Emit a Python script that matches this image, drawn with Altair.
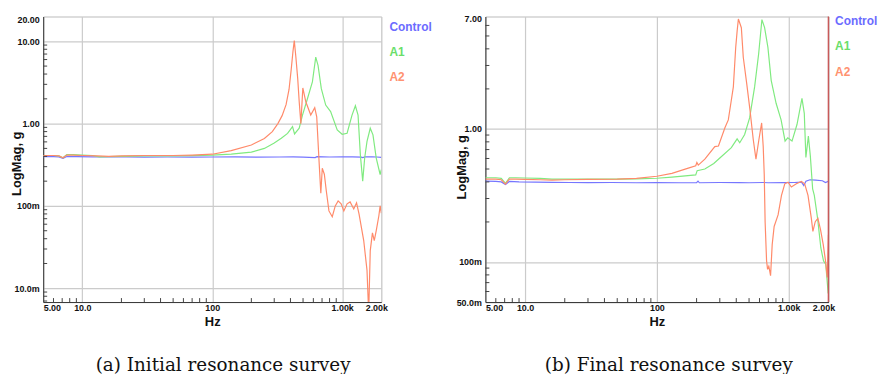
import altair as alt
import pandas as pd

# ---------------- shared ----------------
SERIES = ["Control", "A1", "A2"]
LINE_COLORS = ["#7676ff", "#80ea80", "#ff8a6a"]
TEXT_COLORS = ["#6b6bff", "#6ade6a", "#ff9270"]

x_tick_values = [5, 10, 100, 1000, 2000]
x_tick_labels = ["5.00", "10.0", "100", "1.00k", "2.00k"]
x_minor = [6, 7, 8, 9, 20, 30, 40, 50, 60, 70, 80, 90,
           200, 300, 400, 500, 600, 700, 800, 900]

# ---------------- panel (a) ----------------
a_y_tick_values = [0.01, 0.1, 1, 10, 20]
a_y_tick_labels = ["10.0m", "100m", "1.00", "10.00", "20.00"]
a_y_minor = [0.007, 0.008, 0.009, 0.02, 0.03, 0.04, 0.05, 0.06, 0.07, 0.08, 0.09,
             0.2, 0.3, 0.4, 0.5, 0.6, 0.7, 0.8, 0.9, 2, 3, 4, 5, 6, 7, 8, 9]

a_ctrl_f = [5, 6, 6.6, 7.1, 7.6, 9, 12, 16, 22, 30, 45, 70, 100, 150, 220, 330, 420,
            500, 620, 640, 800, 1000, 1200, 1400, 1440, 1500, 1700, 1850, 2000]
a_ctrl_v = [0.398, 0.398, 0.395, 0.378, 0.398, 0.397, 0.394, 0.393, 0.395, 0.392, 0.393,
            0.392, 0.393, 0.394, 0.392, 0.393, 0.394, 0.392, 0.387, 0.397, 0.393, 0.394,
            0.395, 0.392, 0.387, 0.395, 0.396, 0.393, 0.390]

a_a1_f = [5, 6, 6.6, 7.1, 7.6, 8.5, 10, 12, 13.5, 16, 20, 30, 50, 70, 100, 140, 200,
          252, 300, 340, 380, 415, 430, 467, 495, 541, 590, 626, 652, 691, 747, 815,
          916, 1000, 1091, 1191, 1264, 1325, 1380, 1439, 1490, 1553, 1645, 1726, 1829,
          1960, 2000]
a_a1_v = [0.41, 0.41, 0.405, 0.385, 0.42, 0.42, 0.415, 0.41, 0.395, 0.398, 0.40, 0.405,
          0.405, 0.408, 0.415, 0.427, 0.451, 0.50, 0.58, 0.665, 0.76, 0.92, 0.75, 0.88,
          1.27, 2.02, 3.21, 6.42, 5.09, 2.66, 1.68, 1.40, 0.84, 0.743, 0.764, 1.27, 1.65,
          1.27, 0.42, 0.20, 0.382, 0.607, 0.878, 0.731, 0.382, 0.241, 0.277]

a_a2_f = [5, 6, 6.6, 7.1, 7.6, 8.5, 10, 13, 16, 20, 30, 50, 70, 100, 140, 200, 252,
          290, 320, 345, 370, 390, 405, 418, 428, 440, 455, 467, 481, 498, 525, 573,
          615, 637, 664, 685, 703, 729, 755, 791, 839, 885, 931, 982, 1030, 1091, 1151,
          1228, 1290, 1348, 1465, 1553, 1600, 1645, 1710, 1766, 1829, 1916, 1960, 2000]
a_a2_v = [0.41, 0.41, 0.405, 0.385, 0.415, 0.415, 0.41, 0.405, 0.40, 0.405, 0.41, 0.41,
          0.415, 0.425, 0.47, 0.55, 0.66, 0.80, 1.0, 1.25, 1.7, 2.6, 4.5, 7.5, 10.2, 6.5,
          3.5, 1.84, 1.0, 2.71, 1.84, 1.27, 1.56, 1.21, 0.348, 0.143, 0.287, 0.243,
          0.152, 0.087, 0.074, 0.1, 0.115, 0.106, 0.087, 0.106, 0.112, 0.092, 0.109,
          0.080, 0.038, 0.0165, 0.005, 0.0287, 0.047, 0.038, 0.050, 0.076, 0.10, 0.082]

# ---------------- panel (b) ----------------
b_y_tick_values = [0.05, 0.1, 1, 7]
b_y_tick_labels = ["50.0m", "100m", "1.00", "7.00"]
b_y_minor = [0.06, 0.07, 0.08, 0.09, 0.2, 0.3, 0.4, 0.5, 0.6, 0.7, 0.8, 0.9,
             2, 3, 4, 5, 6]

b_ctrl_f = [5, 6, 6.6, 7.1, 7.6, 9, 12, 16, 22, 30, 45, 70, 100, 150, 200, 205, 210,
            300, 420, 500, 640, 700, 900, 1100, 1250, 1300, 1350, 1450, 1600, 1800,
            1900, 2000]
b_ctrl_v = [0.405, 0.403, 0.40, 0.383, 0.403, 0.40, 0.398, 0.397, 0.396, 0.395, 0.396,
            0.394, 0.395, 0.394, 0.395, 0.405, 0.394, 0.396, 0.395, 0.394, 0.396, 0.394,
            0.395, 0.396, 0.398, 0.375, 0.405, 0.415, 0.412, 0.408, 0.395, 0.405]

b_a1_f = [5, 6, 6.6, 7.1, 7.6, 8.5, 10, 13, 16, 20, 30, 50, 70, 100, 130, 197, 202,
          231, 270, 309, 367, 406, 425, 463, 505, 551, 591, 626, 656, 695, 736, 802,
          875, 938, 983, 1059, 1155, 1260, 1312, 1349, 1409, 1458, 1518, 1563, 1655,
          1751, 1835, 1910, 1991]
b_a1_v = [0.43, 0.43, 0.425, 0.39, 0.43, 0.43, 0.428, 0.425, 0.42, 0.42, 0.42, 0.42,
          0.422, 0.426, 0.434, 0.451, 0.486, 0.50, 0.55, 0.621, 0.723, 0.843, 0.788,
          0.908, 1.21, 2.07, 3.66, 6.64, 5.77, 4.10, 2.32, 1.56, 1.17, 0.811, 0.858,
          0.811, 1.08, 1.70, 1.31, 0.61, 0.883, 0.628, 0.355, 0.317, 0.213, 0.128,
          0.102, 0.096, 0.058]

b_a2_f = [5, 6, 6.6, 7.1, 7.6, 8.5, 10, 13, 16, 20, 30, 50, 70, 100, 130, 173, 197,
          201, 206, 231, 275, 293, 328, 348, 367, 380, 396, 406, 415, 437, 452, 480,
          508, 538, 564, 594, 623, 640, 652, 662, 679, 691, 706, 728, 749, 775, 830,
          881, 933, 988, 1047, 1142, 1247, 1321, 1400, 1484, 1525, 1589, 1663, 1742,
          1827, 1901, 1959, 2000]
b_a2_v = [0.42, 0.42, 0.415, 0.385, 0.42, 0.42, 0.418, 0.415, 0.413, 0.415, 0.418,
          0.42, 0.425, 0.441, 0.464, 0.508, 0.529, 0.56, 0.535, 0.593, 0.736, 0.744,
          1.02, 1.17, 1.65, 2.07, 4.10, 5.44, 6.7, 5.77, 3.46, 2.19, 1.39, 0.833, 0.593,
          0.833, 1.11, 0.744, 0.45, 0.2, 0.102, 0.088, 0.093, 0.079, 0.135, 0.185, 0.226,
          0.317, 0.387, 0.398, 0.366, 0.387, 0.403, 0.387, 0.317, 0.213, 0.170, 0.201,
          0.213, 0.175, 0.135, 0.102, 0.0765, 0.16]

LABEL_FONT = "Liberation Sans"


def label_expr(vals, labs):
    expr = "''"
    for v, l in reversed(list(zip(vals, labs))):
        expr = f"datum.value == {v} ? '{l}' : ({expr})"
    return expr


def panel(curves, ydom, ytv, ytl, yminor, W, H, caption, cap_dx, title_x, title_dy,
          top_label_off, leg_dx, leg_ys, red_right):
    frames = []
    for name, (fs, vs) in zip(SERIES, curves):
        frames.append(pd.DataFrame({"f": fs, "v": vs, "series": name}))
    df = pd.concat(frames, ignore_index=True)

    xscale = alt.Scale(type="log", domain=[5, 2000], nice=False)
    yscale = alt.Scale(type="log", domain=ydom, nice=False)

    xaxis = alt.Axis(
        values=x_tick_values, labelExpr=label_expr(x_tick_values, x_tick_labels),
        grid=True, gridColor="#cbcbcb", gridWidth=1.2, ticks=False, tickSize=0,
        domainColor="#333333", domainWidth=1,
        labelFont=LABEL_FONT, labelFontWeight="bold", labelFontSize=9,
        labelColor="#111111", labelPadding=2, labelFlush=False, labelOverlap=False,
        labelAlign={"condition": {"test": "datum.value <= 5", "value": "left"},
                    "value": "center"},
        labelOffset={"condition": {"test": "datum.value >= 2000", "value": -5},
                     "value": 0},
        title="Hz", titleFont=LABEL_FONT, titleFontWeight="bold", titleFontSize=13,
        titleColor="#111111", titlePadding=3)
    yaxis = alt.Axis(
        values=ytv, labelExpr=label_expr(ytv, ytl),
        grid=True, gridColor="#cbcbcb", gridWidth=1.2, ticks=False, tickSize=0,
        domainColor="#333333", domainWidth=1,
        labelFont=LABEL_FONT, labelFontWeight="bold", labelFontSize=9,
        labelColor="#111111", labelPadding=4, labelFlush=False, labelOverlap=False,
        labelOffset={"condition": {"test": f"datum.value == {ytv[-1]}",
                                   "value": top_label_off},
                     "value": 0},
        title="LogMag, g", titleFont=LABEL_FONT, titleFontWeight="bold",
        titleFontSize=13, titleColor="#111111", titleX=title_x,
        titleY=H / 2 + title_dy, titleBaseline="middle", titleAngle=270)

    lines = alt.Chart(df).mark_line(strokeWidth=1.2, clip=True).encode(
        x=alt.X("f:Q", scale=xscale, axis=xaxis),
        y=alt.Y("v:Q", scale=yscale, axis=yaxis),
        color=alt.Color("series:N", scale=alt.Scale(domain=SERIES, range=LINE_COLORS),
                        legend=None),
        order=alt.Order("f:Q"),
        detail="series:N",
    )

    xt = alt.Chart(pd.DataFrame({"f": x_minor})).mark_rule(
        color="#444444", strokeWidth=1).encode(
        x=alt.X("f:Q", scale=xscale, axis=xaxis),
        y=alt.value(H), y2=alt.value(H - 4))
    yt = alt.Chart(pd.DataFrame({"v": yminor})).mark_rule(
        color="#444444", strokeWidth=1).encode(
        y=alt.Y("v:Q", scale=yscale, axis=yaxis),
        x=alt.value(0), x2=alt.value(4))

    layers = [lines, xt, yt]
    for name, col, yy in zip(SERIES, TEXT_COLORS, leg_ys):
        layers.append(
            alt.Chart(pd.DataFrame({"s": [name]})).mark_text(
                align="left", baseline="middle", font=LABEL_FONT, fontWeight="bold",
                fontSize=12, color=col).encode(
                x=alt.value(W + leg_dx), y=alt.value(yy), text="s:N"))
    if red_right:
        layers.append(
            alt.Chart(pd.DataFrame({"s": [0]})).mark_rule(
                color="#c85a5a", strokeWidth=1.5).encode(
                x=alt.value(W), y=alt.value(0), y2=alt.value(H)))

    return alt.layer(*layers).properties(
        width=W, height=H,
        title=alt.TitleParams(caption, orient="bottom", anchor="middle",
                              font="DejaVu Serif", fontSize=18.5, fontWeight="normal",
                              color="#111111", offset=28, dx=cap_dx))


chart_a = panel([(a_ctrl_f, a_ctrl_v), (a_a1_f, a_a1_v), (a_a2_f, a_a2_v)],
                [0.0068, 20], a_y_tick_values, a_y_tick_labels, a_y_minor,
                341, 288, "(a) Initial resonance survey", 11, -27, 4, 3,
                8.3, [10.5, 35.5, 61.5], False)
chart_b = panel([(b_ctrl_f, b_ctrl_v), (b_a1_f, b_a1_v), (b_a2_f, b_a2_v)],
                [0.05, 7], b_y_tick_values, b_y_tick_labels, b_y_minor,
                346, 288, "(b) Final resonance survey", 12, -24, 7.5, 2.3,
                6.7, [4.5, 29.5, 55.5], True)

chart = alt.hconcat(chart_a, chart_b, spacing=22).properties(
    padding={"left": 1.5, "top": 4, "right": 0, "bottom": 0}
).configure_view(stroke="#b4b4b4", strokeWidth=1).configure(background="white")

chart.save("out.html", embed_options={"renderer": "svg", "actions": False})
